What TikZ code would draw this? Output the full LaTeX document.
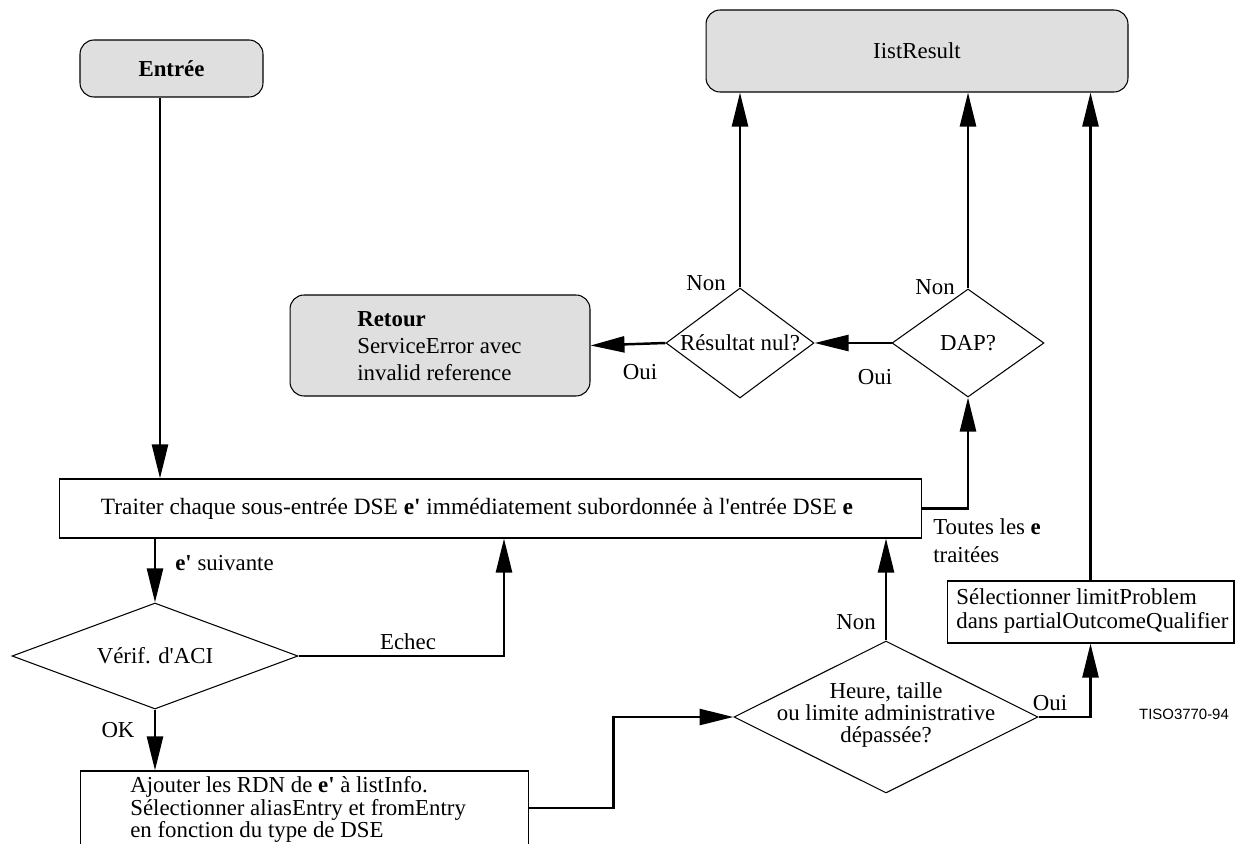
\documentclass[tikz,border=0pt]{standalone}
\usepackage{fontspec}
\setmainfont{Liberation Serif}
\newfontfamily\tisofont{Liberation Sans}
\usetikzlibrary{shapes.geometric,arrows.meta,calc}
\newcommand\myap{\textquotesingle}
\begin{document}
\begin{tikzpicture}[x=0.02cm,y=-0.02cm,
  font=\fontsize{13}{15}\selectfont,
  conn/.style={line width=1.4pt},
  arr/.style={conn,-{Triangle[length=0.68cm,width=0.32cm]}},
  gbox/.style={draw,line width=0.6pt,fill=gray!25,rounded corners=0.28cm,inner sep=0},
  wbox/.style={draw,line width=0.6pt,inner sep=0},
  dia/.style={draw,shape=diamond,line width=0.6pt,inner sep=0},
  lbl/.style={inner sep=0}
]
\useasboundingbox (0,0) rectangle (1239,844);
\clip (0,0) rectangle (1239,844);

% boxes
\node[gbox,minimum width=3.66cm,minimum height=1.14cm] (entree) at (171.5,68.5) {\textbf{Entrée}};
\node[gbox,minimum width=8.44cm,minimum height=1.64cm] (lr) at (917,51) {IistResult};
\node[gbox,minimum width=6cm,minimum height=2.02cm] (retour) at (440,345.5) {};
\node[lbl,anchor=west,align=left,font=\fontsize{13}{15.4}\selectfont] (retourtxt) at (357,346) {\textbf{Retour}\\ServiceError avec\\invalid reference};

\node[dia,minimum width=2.96cm,minimum height=2.2cm] (res) at (740,343) {};
\node[lbl] (restxt) at (res) {Résultat nul?};
\node[dia,minimum width=3.04cm,minimum height=2.16cm] (dap) at (968,343) {};
\node[lbl] (daptxt) at (dap) {DAP?};

\node[wbox,minimum width=17.26cm,minimum height=1.18cm] (main) at (490.5,508.5) {};
\node[lbl,font=\fontsize{13.3}{15}\selectfont] (maintxt) at (477,509) {Traiter chaque sous-entrée DSE \textbf{e\myap} immédiatement subordonnée à l\myap entrée DSE \textbf{e}};

\node[dia,minimum width=5.72cm,minimum height=2.12cm] (ver) at (155,656) {};
\node[lbl] (vertxt) at (ver) {Vérif. d\myap ACI};

\node[wbox,minimum width=8.98cm,minimum height=1.48cm] (aj) at (304.5,808) {};
\node[lbl,anchor=north west,align=left,font=\fontsize{13}{10.5}\selectfont] (ajtxt) at (130,776) {Ajouter les RDN de \textbf{e\myap} à listInfo.\\Sélectionner aliasEntry et fromEntry\\en fonction du type de DSE};

\node[dia,minimum width=6.08cm,minimum height=3.04cm] (heure) at (886,717) {};
\node[lbl,align=center,font=\fontsize{13}{12.5}\selectfont] (heuretxt) at (886,715) {Heure, taille\\ou limite administrative\\dépassée?};

\node[wbox,minimum width=5.74cm,minimum height=1.24cm] (sel) at (1090.5,612) {};
\node[lbl,anchor=west,align=left,font=\fontsize{13}{14.2}\selectfont] (seltxt) at (956,611) {Sélectionner limitProblem\\dans partialOutcomeQualifier};

% labels
\node[lbl,anchor=west] (lsuiv) at (175,563) {\textbf{e\myap} suivante};
\node[lbl] (lechec) at (408,642) {Echec};
\node[lbl] (lok) at (118,730) {OK};
\node[lbl] (lnon1) at (706,283) {Non};
\node[lbl] (lnon2) at (935,287) {Non};
\node[lbl] (loui1) at (640,372) {Oui};
\node[lbl] (loui2) at (875,377) {Oui};
\node[lbl,anchor=north west,align=left,font=\fontsize{13}{16}\selectfont] (ltoutes) at (933,518) {Toutes les \textbf{e}\\traitées};
\node[lbl] (lnon3) at (856,622) {Non};
\node[lbl] (loui3) at (1050,703) {Oui};
\node[lbl,font=\tisofont\fontsize{8.5}{10}\selectfont] (tiso) at (1184,714) {TISO3770-94};

% connectors
\coordinate (ein) at ([xshift=-0.23cm]entree.south);
\draw[arr] (ein) -- (ein |- main.north);
\draw[arr] (main.south -| ver.north) -- (ver.north);
\coordinate (echecx) at (504,656);
\draw[arr] (ver.east) -- (echecx) -- (echecx |- main.south);
\draw[arr] (ver.south) -- (ver.south |- aj.north);
\draw[arr] (aj.east) -- ++(84,0) |- (heure.west);
\draw[arr] (heure.north) -- (heure.north |- main.south);
\draw[arr] (heure.east) -| (sel.south);
\draw[arr] (sel.north) -- (sel.north |- lr.south);
\draw[arr] (main.east) -| (dap.south);
\draw[arr] (dap.west) -- (res.east);
\draw[arr] (dap.north) -- (dap.north |- lr.south);
\draw[arr] (res.north) -- (res.north |- lr.south);
\draw[arr] (res.west) -- (retour.east);
\end{tikzpicture}
\end{document}
